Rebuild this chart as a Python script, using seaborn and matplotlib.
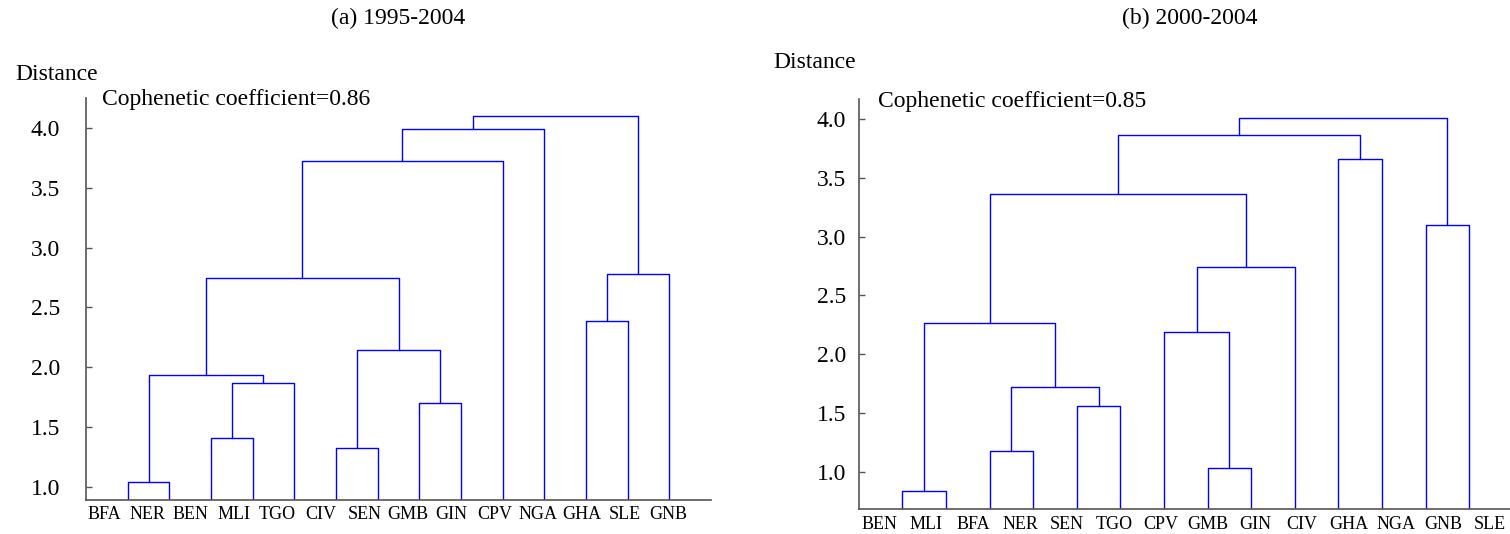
import matplotlib
matplotlib.use("Agg")
import matplotlib.pyplot as plt
import seaborn as sns
import pandas as pd

# ==========================================
# DATA
# ==========================================
LEAVES_A = ['BFA', 'NER', 'BEN', 'MLI', 'TGO', 'CIV', 'SEN',
            'GMB', 'GIN', 'CPV', 'NGA', 'GHA', 'SLE', 'GNB']
# merges: (left cluster, right cluster, distance); leaves are 0..13, new clusters 14, 15, ...
MERGES_A = [
    (0, 1, 1.045),    # 14 BFA-NER
    (2, 3, 1.413),    # 15 BEN-MLI
    (15, 4, 1.867),   # 16 +TGO
    (14, 16, 1.933),  # 17
    (5, 6, 1.324),    # 18 CIV-SEN
    (7, 8, 1.703),    # 19 GMB-GIN
    (18, 19, 2.145),  # 20
    (17, 20, 2.744),  # 21
    (21, 9, 3.727),   # 22 +CPV
    (22, 10, 3.989),  # 23 +NGA
    (11, 12, 2.39),   # 24 GHA-SLE
    (24, 13, 2.777),  # 25 +GNB
    (23, 25, 4.10),   # 26
]
COPH_A = 0.86

LEAVES_B = ['BEN', 'MLI', 'BFA', 'NER', 'SEN', 'TGO', 'CPV',
            'GMB', 'GIN', 'CIV', 'GHA', 'NGA', 'GNB', 'SLE']
MERGES_B = [
    (0, 1, 0.838),    # 14 BEN-MLI
    (2, 3, 1.173),    # 15 BFA-NER
    (4, 5, 1.559),    # 16 SEN-TGO
    (15, 16, 1.723),  # 17
    (14, 17, 2.27),   # 18
    (7, 8, 1.029),    # 19 GMB-GIN
    (6, 19, 2.185),   # 20 +CPV
    (20, 9, 2.74),    # 21 +CIV
    (18, 21, 3.367),  # 22
    (10, 11, 3.665),  # 23 GHA-NGA
    (22, 23, 3.87),   # 24
    (12, 13, 3.10),   # 25 GNB-SLE
    (24, 25, 4.01),   # 26
]
COPH_B = 0.85

Y_TICKS_A = [1.0, 1.5, 2.0, 2.5, 3.0, 3.5, 4.0]
Y_TICKS_B = [1.0, 1.5, 2.0, 2.5, 3.0, 3.5, 4.0]

BLEU = '#0000ff'
GRIS = '#555555'


def segments_dendrogramme(leaves, merges):
    """Build one U-shaped line per merge, like a usual dendrogram."""
    n = len(leaves)
    pos = {i: i + 1 for i in range(n)}
    haut = {i: 0.0 for i in range(n)}
    rows = []
    for k, (a, b, h) in enumerate(merges):
        cid = n + k
        pts = [(pos[a], haut[a]), (pos[a], h), (pos[b], h), (pos[b], haut[b])]
        for j, (x, y) in enumerate(pts):
            rows.append({'x': x, 'y': y, 'lien': cid, 'ordre': j})
        pos[cid] = (pos[a] + pos[b]) / 2
        haut[cid] = h
    return pd.DataFrame(rows)


def dessiner(ax, leaves, merges, yticks, ylim, lab_start, lab_step, ypad):
    df = segments_dendrogramme(leaves, merges)
    sns.lineplot(data=df, x='x', y='y', units='lien', estimator=None,
                 sort=False, color=BLEU, linewidth=1.0, ax=ax)
    ax.set_xlim(0, 15)
    ax.set_ylim(*ylim)
    ax.set_xlabel('')
    ax.set_ylabel('')
    sns.despine(ax=ax)
    for s in ['left', 'bottom']:
        ax.spines[s].set_color(GRIS)
        ax.spines[s].set_linewidth(1.2)
    ax.set_yticks(yticks)
    ax.set_yticklabels([f'{v:.1f}' for v in yticks], fontsize=17, color='black')
    ax.tick_params(axis='y', direction='in', length=4, width=1, color=GRIS, pad=ypad)
    # les étiquettes ne tombent pas exactement sous les feuilles dans l'original
    xs = [lab_start + lab_step * i for i in range(len(leaves))]
    ax.set_xticks(xs)
    ax.set_xticklabels(leaves, fontsize=13, color='black')
    ax.tick_params(axis='x', length=0, pad=4.5)


sns.set_style('ticks')
plt.rcParams['font.family'] = ['Liberation Serif', 'DejaVu Serif']
plt.rcParams['text.color'] = 'black'

W, H = 1510, 534
fig = plt.figure(figsize=(W / 100, H / 100), dpi=100)

ax_a = fig.add_axes([86 / W, 1 - 500 / H, 625 / W, 402 / H])
ax_b = fig.add_axes([858.7 / W, 1 - 509.3 / H, 654 / W, 410 / H])

dessiner(ax_a, LEAVES_A, MERGES_A, Y_TICKS_A, (0.891, 4.25), 0.43, 1.042, 18.7)
dessiner(ax_b, LEAVES_B, MERGES_B, Y_TICKS_B, (0.68, 4.17), 0.47, 1.078, 9.1)

fig.text(398 / W, 1 - 18 / H, '(a) 1995-2004', ha='center', va='center', fontsize=17)
fig.text(1190 / W, 1 - 18 / H, '(b) 2000-2004', ha='center', va='center', fontsize=17)

fig.text(15 / W, 1 - 75 / H, 'Distance', ha='left', va='center', fontsize=17)
fig.text(773 / W, 1 - 63 / H, 'Distance', ha='left', va='center', fontsize=17)

fig.text(102 / W, 1 - 100 / H, f'Cophenetic coefficient={COPH_A:.2f}',
         ha='left', va='center', fontsize=17)
fig.text(878 / W, 1 - 102 / H, f'Cophenetic coefficient={COPH_B:.2f}',
         ha='left', va='center', fontsize=17)

fig.savefig('out.png', dpi=100)
